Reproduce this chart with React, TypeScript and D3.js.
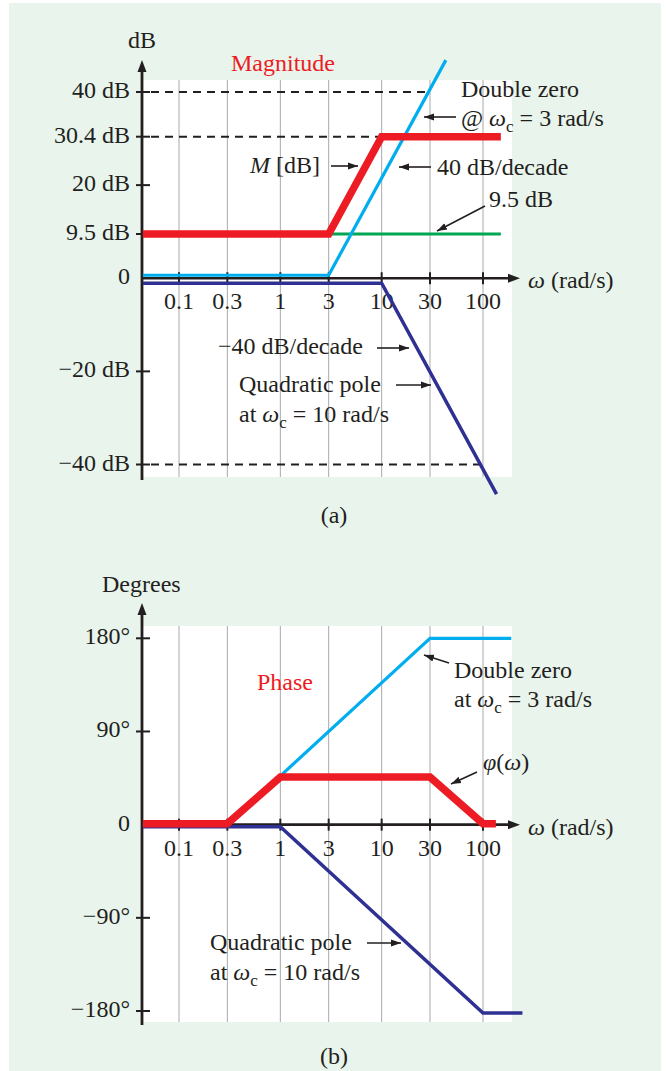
import * as d3 from 'd3'

// frequency axis (rad/s)
const freqTicks = [0.1, 0.3, 1, 3, 10, 30, 100]
const freqLabels = ['0.1', '0.3', '1', '3', '10', '30', '100']

// (a) magnitude
const magTicks = [40, 30.4, 20, 9.5, -20, -40]
const magTickLabels = ['40 dB', '30.4 dB', '20 dB', '9.5 dB', '−20 dB', '−40 dB']
const magGuideDb = [40, 30.4, -40]
const magGuideEnd = [28, 10, 100]

const zeroMagW = [0.044, 3, 43]
const zeroMagDb = [0, 0, 46.2]
const poleMagW = [0.044, 10, 136]
const poleMagDb = [0, 0, -45.3]
const totalMagW = [0.044, 3, 10, 150]
const totalMagDb = [9.5, 9.5, 30.4, 30.4]
const constMagW = [3, 150]
const constMagDb = [9.5, 9.5]

// (b) phase
const phaseTicks = [180, 90, -90, -180]
const phaseTickLabels = ['180°', '90°', '−90°', '−180°']

const zeroPhW = [0.044, 0.3, 30, 190]
const zeroPhDeg = [0, 0, 180, 180]
const polePhW = [0.044, 1, 100, 245]
const polePhDeg = [0, 0, -180, -180]
const totalPhW = [0.044, 0.3, 1, 30, 100, 134]
const totalPhDeg = [0, 0, 45, 45, 0, 0]

const W = 666, H = 1071
const AX = 143          // y axis position
const PR = 512          // right edge of white plot
const FS = 24
const FONT = 'Liberation Serif, Times New Roman, serif'
const INK = '#231f20'
const RED = '#ed1c24', CYAN = '#00aeef', NAVY = '#2e3192', GREEN = '#00a651'

const x = d3.scaleLog().domain([0.1, 100]).range([179, 483])
const yMag = d3.scaleLinear().domain([-40, 40]).range([464.5, 92])
const yPh = d3.scaleLinear().domain([-180, 180]).range([1011, 638.3])

function path(ws: number[], vs: number[], y: d3.ScaleLinear<number, number>) {
  const line = d3.line<number>().x((_, i) => x(ws[i])).y((v) => y(v))
  return line(vs) || ''
}

function Sub({ name, sub }: { name: string; sub: string }) {
  return (
    <>
      <tspan fontStyle="italic">{name}</tspan>
      <tspan dy={6} fontSize={17}>{sub}</tspan>
      <tspan dy={-6}> </tspan>
    </>
  )
}

function Panel({ y, top, bottom, top0 }: {
  y: d3.ScaleLinear<number, number>; top: number; bottom: number; top0: number
}) {
  const y0 = y(0)
  return (
    <g>
      <rect x={AX} y={top} width={PR - AX} height={bottom - top} fill="#fff" />
      {freqTicks.map((f) => (
        <line key={f} x1={x(f)} x2={x(f)} y1={top} y2={bottom} stroke="#a7a9ac" strokeWidth={1} />
      ))}
      {/* axes */}
      <line x1={AX} x2={513} y1={y0} y2={y0} stroke={INK} strokeWidth={2.6} />
      <path d={`M520,${y0} l-12,-4.5 l0,9 z`} fill={INK} />
      <line x1={AX - 1} x2={AX - 1} y1={top0 + 8} y2={bottom + 3} stroke={INK} strokeWidth={2.8} />
      <path d={`M${AX - 1},${top0} l-4.5,12 l9,0 z`} fill={INK} />
      {freqTicks.map((f, i) => (
        <g key={f}>
          <line x1={x(f)} x2={x(f)} y1={y0 - 6} y2={y0 + 6} stroke={INK} strokeWidth={2} />
          <text x={x(f)} y={y0 + 31} textAnchor="middle" fontSize={FS}>{freqLabels[i]}</text>
        </g>
      ))}
      <text x={528} y={y0 + 10} fontSize={FS}>
        <tspan fontStyle="italic">ω</tspan> (rad/s)
      </text>
      <text x={130} y={y0 + 6} textAnchor="end" fontSize={FS}>0</text>
    </g>
  )
}

export default function App() {
  const arrowMarker = (
    <defs>
      <marker id="ah" viewBox="0 0 10 10" refX={10} refY={5} markerWidth={10} markerHeight={10}
        markerUnits="userSpaceOnUse" orient="auto">
        <path d="M0,1.5 L10,5 L0,8.5 z" fill={INK} />
      </marker>
    </defs>
  )
  const arrow = (x1: number, y1: number, x2: number, y2: number) => (
    <line x1={x1} y1={y1} x2={x2} y2={y2} stroke={INK} strokeWidth={1.6} markerEnd="url(#ah)" />
  )

  return (
    <svg width={W} height={H} viewBox={`0 0 ${W} ${H}`}
      style={{ position: 'absolute', left: 0, top: 0 }} fontFamily={FONT} fill={INK}>
      {arrowMarker}
      <rect x={0} y={0} width={W} height={H} fill="#fff" />
      <rect x={9} y={3} width={652} height={1068} fill="#e8f4ec" />

      {/* (a) Magnitude */}
      <Panel y={yMag} top={80} bottom={477} top0={60} />
      {magGuideDb.map((d, i) => (
        <line key={d} x1={AX + 8} x2={x(magGuideEnd[i])} y1={yMag(d)} y2={yMag(d)}
          stroke={INK} strokeWidth={2} strokeDasharray="8 6" />
      ))}
      {magTicks.map((d, i) => (
        <g key={d}>
          <line x1={136} x2={150} y1={yMag(d)} y2={yMag(d)} stroke={INK} strokeWidth={2} />
          <text x={130} y={yMag(d) + 6} textAnchor="end" fontSize={FS}>{magTickLabels[i]}</text>
        </g>
      ))}
      <path d={path(constMagW, constMagDb, yMag)} fill="none" stroke={GREEN} strokeWidth={3} />
      <path d={path(zeroMagW, zeroMagDb, yMag)} fill="none" stroke={CYAN} strokeWidth={3.2}
        transform="translate(0,-3)" />
      <path d={path(poleMagW, poleMagDb, yMag)} fill="none" stroke={NAVY} strokeWidth={3.5}
        transform="translate(0,5)" />
      <path d={path(totalMagW, totalMagDb, yMag)} fill="none" stroke={RED} strokeWidth={7.5}
        strokeLinejoin="miter" />

      <text x={142} y={48} textAnchor="middle" fontSize={FS}>dB</text>
      <text x={283} y={71} textAnchor="middle" fontSize={FS} fill={RED}>Magnitude</text>
      <text x={461} y={97} fontSize={FS}>Double zero</text>
      <text x={461} y={126} fontSize={FS}>@ <Sub name="ω" sub="c" />= 3 rad/s</text>
      {arrow(456, 117, 424, 117)}
      <text x={250} y={173} fontSize={FS}><tspan fontStyle="italic">M</tspan> [dB]</text>
      {arrow(331, 166, 358, 166)}
      <text x={437} y={175} fontSize={FS}>40 dB/decade</text>
      {arrow(431, 167, 399, 167)}
      <text x={489} y={207} fontSize={FS}>9.5 dB</text>
      {arrow(485, 206, 437, 231)}
      <text x={218} y={354} fontSize={FS}>−40 dB/decade</text>
      {arrow(377, 348, 409, 348)}
      <text x={239} y={392} fontSize={FS}>Quadratic pole</text>
      {arrow(396, 385, 431, 385)}
      <text x={239} y={422} fontSize={FS}>at <Sub name="ω" sub="c" />= 10 rad/s</text>
      <text x={334} y={523} textAnchor="middle" fontSize={FS}>(a)</text>

      {/* (b) Phase */}
      <Panel y={yPh} top={626} bottom={1022} top0={603} />
      {phaseTicks.map((d, i) => (
        <g key={d}>
          <line x1={136} x2={150} y1={yPh(d)} y2={yPh(d)} stroke={INK} strokeWidth={2} />
          <text x={130} y={yPh(d) + 6} textAnchor="end" fontSize={FS}>{phaseTickLabels[i]}</text>
        </g>
      ))}
      <path d={path(zeroPhW, zeroPhDeg, yPh)} fill="none" stroke={CYAN} strokeWidth={3.2} />
      <path d={path(polePhW, polePhDeg, yPh)} fill="none" stroke={NAVY} strokeWidth={3.5}
        transform="translate(0,2)" />
      <path d={path(totalPhW, totalPhDeg, yPh)} fill="none" stroke={RED} strokeWidth={7.5}
        transform="translate(0,-1)" />

      <text x={102} y={592} fontSize={FS}>Degrees</text>
      <text x={285} y={690} textAnchor="middle" fontSize={FS} fill={RED}>Phase</text>
      <text x={454} y={678} fontSize={FS}>Double zero</text>
      <text x={454} y={707} fontSize={FS}>at <Sub name="ω" sub="c" />= 3 rad/s</text>
      {arrow(449, 663, 424, 655)}
      <text x={483} y={770} fontSize={FS}><tspan fontStyle="italic">φ</tspan>(<tspan fontStyle="italic">ω</tspan>)</text>
      {arrow(477, 772, 451, 784)}
      <text x={210} y={950} fontSize={FS}>Quadratic pole</text>
      {arrow(367, 943, 401, 943)}
      <text x={210} y={980} fontSize={FS}>at <Sub name="ω" sub="c" />= 10 rad/s</text>
      <text x={334} y={1064} textAnchor="middle" fontSize={FS}>(b)</text>
    </svg>
  )
}
